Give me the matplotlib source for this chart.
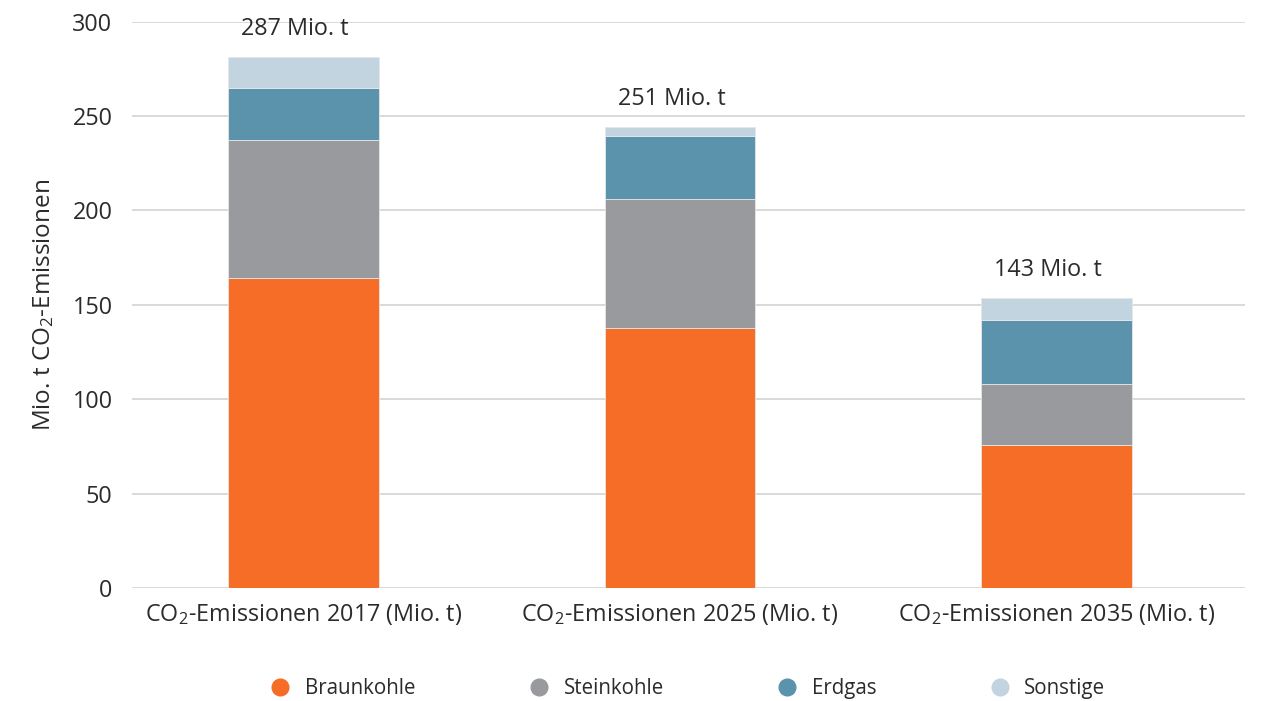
import matplotlib.pyplot as plt
from matplotlib.lines import Line2D
import numpy as np

plt.rcParams['font.family'] = ['Open Sans', 'DejaVu Sans']
plt.rcParams['mathtext.fontset'] = 'custom'
plt.rcParams['mathtext.rm'] = 'Open Sans'
plt.rcParams['mathtext.it'] = 'Open Sans'

# Daten (Mio. t CO2)
kategorien = ["CO$_2$-Emissionen 2017 (Mio. t)",
              "CO$_2$-Emissionen 2025 (Mio. t)",
              "CO$_2$-Emissionen 2035 (Mio. t)"]
braunkohle = [164.2, 137.7, 75.7]
steinkohle = [73.0, 68.3, 32.2]
erdgas = [27.9, 33.2, 33.9]
sonstige = [16.4, 5.2, 11.8]
summen_text = ["287 Mio. t", "251 Mio. t", "143 Mio. t"]

farben = ["#F56D27", "#989A9E", "#5A93AB", "#C2D4E0"]
namen = ["Braunkohle", "Steinkohle", "Erdgas", "Sonstige"]
reihen = [braunkohle, steinkohle, erdgas, sonstige]

text_farbe = "#2b2b2b"

fig = plt.figure(figsize=(12.62, 7.01), dpi=100)
ax = fig.add_axes([0.1046, 0.1612, 0.882, 0.8078])

x = np.arange(len(kategorien))
unten = np.zeros(len(kategorien))
for werte, farbe in zip(reihen, farben):
    ax.bar(x, werte, width=0.4, bottom=unten, color=farbe,
           edgecolor="#e6e6e6", linewidth=0.6, zorder=3)
    unten += np.array(werte)

# Beschriftung ueber den Saeulen
for xi, top, txt in zip(x, unten, summen_text):
    ax.annotate(txt, xy=(xi, top), xytext=(-6, 20), textcoords="offset points",
                ha="center", va="center", fontsize=16.8, color=text_farbe)

ax.set_ylim(0, 300)
ax.set_xlim(-0.455, 2.5)
ax.set_yticks(range(0, 301, 50))
ax.set_xticks(x)
ax.set_xticklabels(kategorien)
ax.tick_params(axis="both", length=0, labelsize=16.8, colors=text_farbe)
ax.tick_params(axis="y", pad=14)
ax.tick_params(axis="x", pad=10)
ax.grid(axis="y", color="#d9d9d9", linewidth=1.4, zorder=0)
for s in ax.spines.values():
    s.set_visible(False)

ax.set_ylabel("Mio. t CO$_2$-Emissionen", fontsize=17.5, color=text_farbe, labelpad=12)

handles = [Line2D([], [], marker="o", linestyle="", markersize=12,
                  markerfacecolor=f, markeredgecolor=f) for f in farben]
fig.legend(handles, namen, loc="center", bbox_to_anchor=(0.541, 0.018),
           ncol=4, frameon=False, fontsize=14.8, columnspacing=5.0,
           handletextpad=0.2, labelcolor=text_farbe)

plt.savefig("out.png")
